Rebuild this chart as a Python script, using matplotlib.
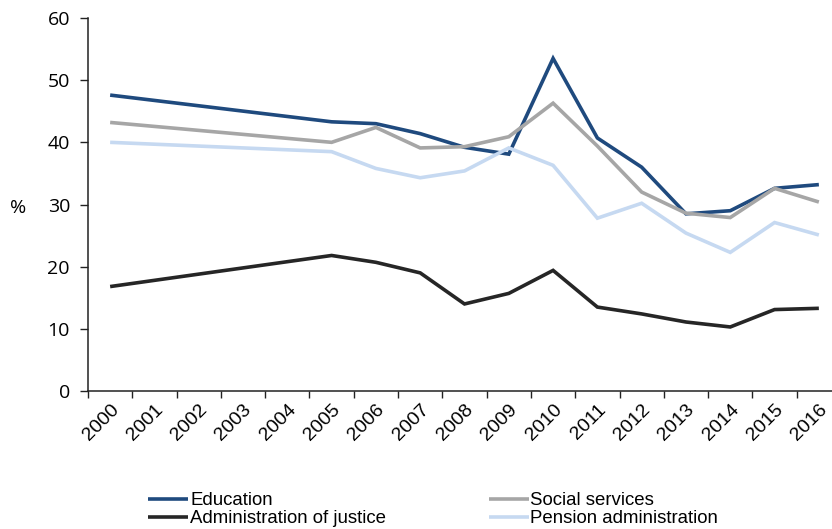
import numpy as np
import matplotlib
matplotlib.use('Agg')
import matplotlib.pyplot as plt

plt.rcParams['font.family'] = ['Liberation Sans', 'DejaVu Sans']

# category axis 2000-2016, data only for 2000 and 2005 onwards
years = [str(y) for y in range(2000, 2017)]
data_years = [2000] + list(range(2005, 2017))

education = [47.6, 43.3, 43.0, 41.4, 39.2, 38.1, 53.5, 40.7, 36.0, 28.5, 29.0, 32.6, 33.2]
social = [43.2, 40.0, 42.4, 39.1, 39.3, 40.9, 46.3, 39.4, 32.0, 28.6, 27.9, 32.6, 30.4]
justice = [16.8, 21.8, 20.7, 19.0, 14.0, 15.7, 19.4, 13.5, 12.4, 11.1, 10.3, 13.1, 13.3]
pension = [40.0, 38.5, 35.8, 34.3, 35.4, 39.1, 36.3, 27.8, 30.2, 25.4, 22.3, 27.1, 25.1]

series = [
    ('Education', education, '#1F4A7E'),
    ('Social services', social, '#A6A6A6'),
    ('Administration of justice', justice, '#262626'),
    ('Pension administration', pension, '#C6D9F1'),
]

xpos = [y - 2000 for y in data_years]

fig = plt.figure(figsize=(8.32, 5.29), dpi=100)
ax = fig.add_axes([88 / 832, 1 - 391 / 529, (841 - 88) / 832, (391 - 18) / 529])

lines = {}
for name, vals, col in series:
    lines[name], = ax.plot(xpos, vals, color=col, lw=2.6, solid_joinstyle='miter',
                           solid_capstyle='butt', label=name, clip_on=False)

ax.set_xlim(-0.5, len(years) - 0.5)
ax.set_ylim(0, 60)
ax.set_yticks(range(0, 61, 10))
ax.tick_params(axis='y', length=6, width=1, pad=7, color='#222222')
for t in ax.get_yticklabels():
    t.set_fontfamily(['Open Sans', 'DejaVu Sans'])
    t.set_fontsize(14)

# tick marks between categories, labels at centres
ax.set_xticks(np.arange(-0.5, len(years), 1.0), minor=True)
ax.set_xticks(range(len(years)))
ax.set_xticklabels(years, rotation=45, ha='right', rotation_mode='anchor', fontsize=14)
ax.tick_params(axis='x', which='major', length=0, pad=7)
ax.tick_params(axis='x', which='minor', length=5, width=1, color='#222222')

for s in ['top', 'right']:
    ax.spines[s].set_visible(False)
for s in ['left', 'bottom']:
    ax.spines[s].set_linewidth(1.1)
    ax.spines[s].set_color('#222222')

fig.text(18 / 832, 1 - 208 / 529, '%', fontsize=14, ha='center', va='center',
         family=['Open Sans', 'DejaVu Sans'])

order = ['Education', 'Administration of justice', 'Social services', 'Pension administration']
leg = fig.legend([lines[n] for n in order], order, ncol=2, frameon=False,
                 loc='upper left', bbox_to_anchor=(139 / 832, 1 - 483 / 529),
                 fontsize=13.4, handlelength=2.15, handletextpad=0.1,
                 columnspacing=5.5, labelspacing=0.05, borderpad=0)

fig.savefig('out.png', dpi=100)
